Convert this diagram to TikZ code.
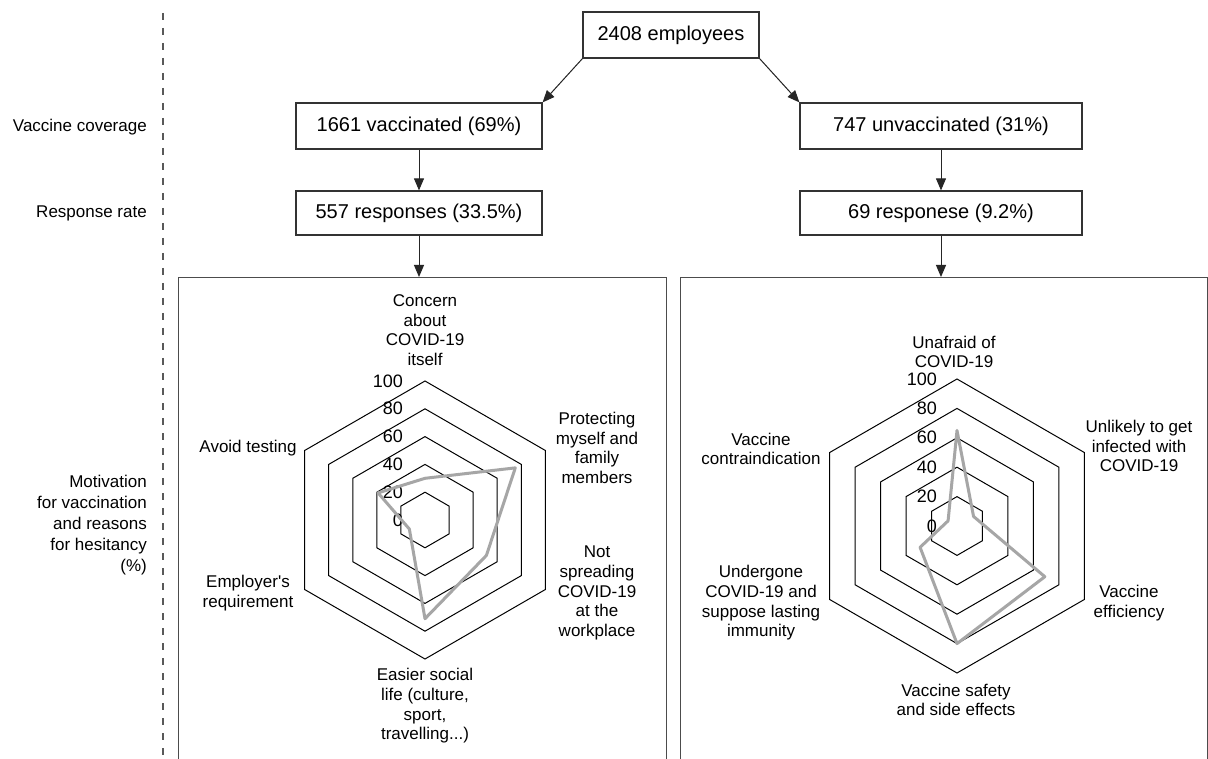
\documentclass[tikz,border=0pt]{standalone}
\usepackage{fontspec}
\setmainfont{Liberation Sans}
\usetikzlibrary{arrows.meta}
\begin{document}
\begin{tikzpicture}[x=1pt,y=-1pt,
  flowbox/.style={draw=black!80, line width=1.2pt, inner sep=0pt, font=\fontsize{20}{24}\selectfont, minimum height=46pt},
  panel/.style={draw=black!70, line width=1.4pt, inner sep=0pt},
  arr/.style={-{Triangle[length=12pt,width=10pt]}, line width=1pt, draw=black!85, fill=black!85},
  lbl/.style={font=\fontsize{17}{19.7}\selectfont, align=center, inner sep=0pt},
  side/.style={font=\fontsize{17}{21}\selectfont, align=right, inner sep=0pt, anchor=east},
  ring/.style={draw=black, line width=1pt, line join=miter},
  ticklbl/.style={font=\fontsize{18}{20}\selectfont, anchor=east, inner sep=0pt},
  datal/.style={draw=black!35, line width=3pt, line join=round},
  sep/.style={draw=black!65, line width=1.2pt, dash pattern=on 7pt off 8pt},
]
\path[use as bounding box, fill=white] (0,0) rectangle (1208,759);

% separator
\coordinate (dtop) at (163,13);
\coordinate (dbot) at (163,759);
\draw[sep] (dtop) -- (dbot);

% side labels
\node[side] (lcov) at (147,127) {Vaccine coverage};
\node[side] (lrr) at (147,213) {Response rate};
\node[side] (lmot) at (147,525) {Motivation\\for vaccination\\and reasons\\for hesitancy\\(\%)};

% flow boxes
\node[flowbox, minimum width=176pt] (emp) at (671,35) {2408 employees};
\node[flowbox, minimum width=246pt] (vac) at (419,126) {1661 vaccinated (69\%)};
\node[flowbox, minimum width=246pt, minimum height=44pt] (resv) at (419,213) {557 responses (33.5\%)};
\node[flowbox, minimum width=282pt] (unv) at (941,126) {747 unvaccinated (31\%)};
\node[flowbox, minimum width=282pt, minimum height=44pt] (resu) at (941,213) {69 responese (9.2\%)};

% panels
\node[panel, minimum width=488pt, minimum height=520pt, anchor=north west] (pl) at (178,277) {};
\node[panel, minimum width=527pt, minimum height=520pt, anchor=north west] (pr) at (680,277) {};

% arrows
\draw[arr] (emp.south west) -- (vac.north east);
\draw[arr] (emp.south east) -- (unv.north west);
\draw[arr] (vac.south) -- (resv.north);
\draw[arr] (unv.south) -- (resu.north);
\draw[arr] (resv.south) -- (resv.south |- pl.north);
\draw[arr] (resu.south) -- (resu.south |- pr.north);

% left radar
\begin{scope}[shift={(425,520)}, y=1pt]
  \foreach \r in {20,40,60,80,100} {
    \draw[ring] (90:{\r*1.39}) -- (30:{\r*1.39}) -- (-30:{\r*1.39}) -- (-90:{\r*1.39}) -- (-150:{\r*1.39}) -- (150:{\r*1.39}) -- cycle;
  }
  \foreach \r in {0,20,40,60,80,100} {
    \node[ticklbl] (lt\r) at (-22,{\r*1.39}) {\r};
  }
  \draw[datal] (90:{30*1.39}) -- (30:{75*1.39}) -- (-30:{51*1.39}) -- (-90:{71*1.39}) -- (-150:{13*1.39}) -- (150:{39*1.39}) -- cycle;
\end{scope}

\node[lbl] (a1) at (425,330) {Concern\\about\\COVID-19\\itself};
\node[lbl] (a2) at (597,448) {Protecting\\myself and\\family\\members};
\node[lbl] (a3) at (597,593) {Not\\spreading\\COVID-19\\at the\\workplace};
\node[lbl] (a4) at (425,706) {Easier social\\life (culture,\\sport,\\travelling...)};
\node[lbl] (a5) at (248,593) {Employer\textquotesingle s\\requirement};
\node[lbl] (a6) at (248,448) {Avoid testing};

% right radar
\begin{scope}[shift={(957,526)}, y=1pt]
  \foreach \r in {20,40,60,80,100} {
    \draw[ring] (90:{\r*1.47}) -- (30:{\r*1.47}) -- (-30:{\r*1.47}) -- (-90:{\r*1.47}) -- (-150:{\r*1.47}) -- (150:{\r*1.47}) -- cycle;
  }
  \foreach \r in {0,20,40,60,80,100} {
    \node[ticklbl] (rt\r) at (-20,{\r*1.47}) {\r};
  }
  \draw[datal] (90:{65*1.47}) -- (30:{13*1.47}) -- (-30:{69*1.47}) -- (-90:{80*1.47}) -- (-150:{29*1.47}) -- (150:{7*1.47}) -- cycle;
\end{scope}

\node[lbl] (b1) at (954,352) {Unafraid of\\COVID-19};
\node[lbl] (b2) at (1139,446) {Unlikely to get\\infected with\\COVID-19};
\node[lbl] (b3) at (1129,603) {Vaccine\\efficiency};
\node[lbl] (b4) at (956,700) {Vaccine safety\\and side effects};
\node[lbl] (b5) at (761,603) {Undergone\\COVID-19 and\\suppose lasting\\immunity};
\node[lbl] (b6) at (761,449) {Vaccine\\contraindication};
\end{tikzpicture}
\end{document}
